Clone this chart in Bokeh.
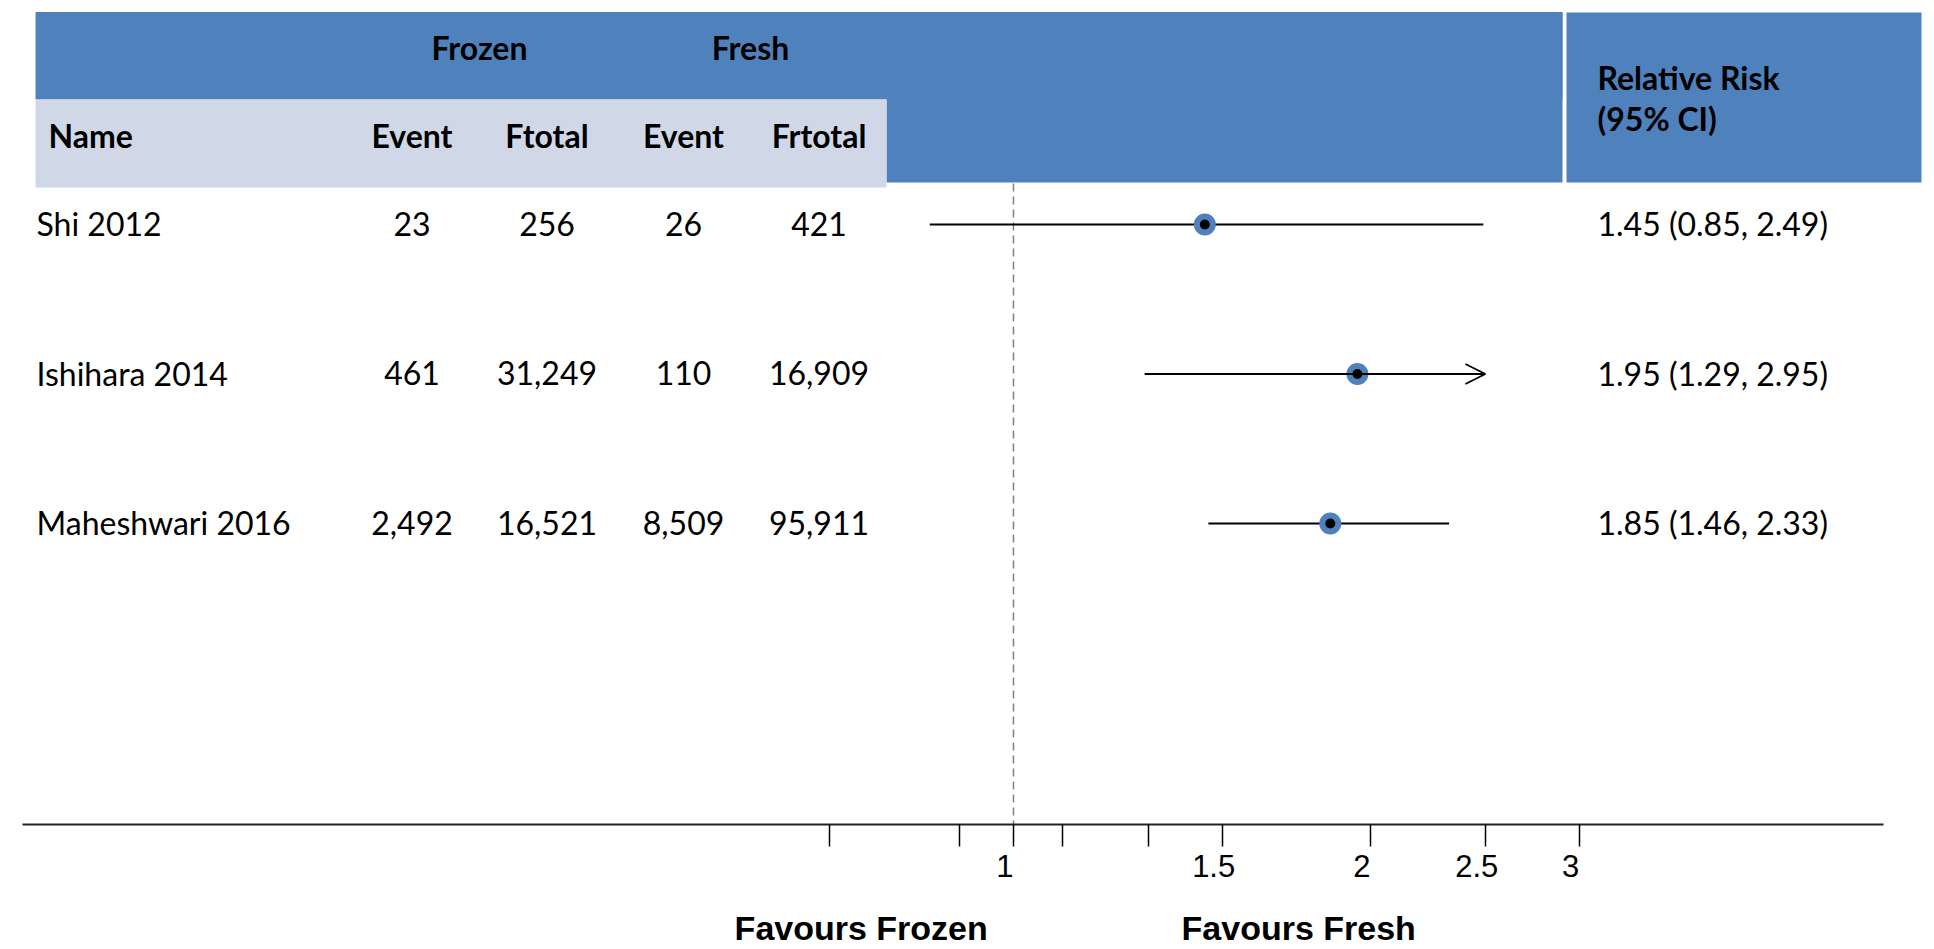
from bokeh.plotting import figure
from bokeh.layouts import column
from bokeh.models import (Range1d, LinearScale, FixedTicker, Arrow, OpenHead)
from bokeh.core.properties import value
from bokeh.embed import file_html
from bokeh.resources import INLINE

# ---------------- data ----------------
names = ["Shi 2012", "Ishihara 2014", "Maheshwari 2016"]
frozen_event = [23, 461, 2492]
frozen_total = [256, 31249, 16521]
fresh_event = [26, 110, 8509]
fresh_total = [421, 16909, 95911]
rr = [1.45, 1.95, 1.85]
ci_low = [0.85, 1.29, 1.46]
ci_high = [2.49, 2.95, 2.33]

col_headers = ["Event", "Ftotal", "Event", "Frtotal"]
group_headers = ["Frozen", "Fresh"]
major_ticks = [1, 1.5, 2, 2.5, 3]
major_tick_labels = ["1", "1.5", "2", "2.5", "3"]
minor_ticks = [0.7, 0.9, 1.1, 1.3]
favour_labels = ["Favours Frozen", "Favours Fresh"]
favour_at = [0.744, 1.74]
ci_clip = 2.5

# ---------------- layout constants (px) ----------------
W, H = 1926, 949
AXIS_Y = 824
H1 = 900            # top figure: table, forest plot and axis
BLUE = "#4F81BD"
LIGHT = "#D0D8E8"
TF = value("Lato")
col_x = [411.5, 546.5, 683, 818.5]
row_y0, row_step = 224, 149.5
row_y = [row_y0 + i * row_step for i in range(len(names))]
NBSP = "\u00a0"

def fmt(n):
    return f"{n:,}"

x_rng = Range1d(0.13988, 5.8876)
p = figure(width=W, height=H1, output_backend="svg", toolbar_location=None,
           x_axis_type="log", x_range=x_rng,
           y_range=Range1d(AXIS_Y, 0), y_axis_location=None,
           min_border_left=0, min_border_right=0, min_border_top=0,
           min_border_bottom=H1 - AXIS_Y)
p.outline_line_color = None
p.grid.visible = False
p.background_fill_color = "white"
p.border_fill_color = "white"
p.extra_x_ranges = {"tbl": Range1d(0, W)}
p.extra_x_scales = {"tbl": LinearScale()}

# ---------------- header boxes ----------------
p.quad(left=[35], right=[1562], top=[11.5], bottom=[99], fill_color=BLUE,
       line_color=None, x_range_name="tbl")
p.quad(left=[886], right=[1562], top=[12], bottom=[182], fill_color=BLUE,
       line_color=None, x_range_name="tbl")
p.quad(left=[1566], right=[1921], top=[12], bottom=[182], fill_color=BLUE,
       line_color=None, x_range_name="tbl")
p.quad(left=[35], right=[886], top=[99], bottom=[187], fill_color=LIGHT,
       line_color=None, x_range_name="tbl")

hdr = dict(x_range_name="tbl", text_font=TF, text_font_style="bold",
           text_color="black", text_baseline="alphabetic", text_font_size="32px")
p.text(x=[479, 750], y=[47, 47], text=group_headers, text_align="center", **hdr)
p.text(x=[48], y=[135], text=["Name"], text_align="left", **hdr)
p.text(x=col_x, y=[135] * 4, text=col_headers, text_align="center", **hdr)
p.text(x=[1597, 1597], y=[77, 118], text=["Relative Risk", "(95% CI)"],
       text_align="left", **hdr)

# ---------------- table rows ----------------
body = dict(x_range_name="tbl", text_font=TF, text_font_size="32px",
            text_color="black", text_baseline="alphabetic")
ty = [y - 1 for y in row_y]
p.text(x=[36] * len(names), y=ty, text=names, text_align="left", **body)
for cx, col in zip(col_x, [frozen_event, frozen_total, fresh_event, fresh_total]):
    p.text(x=[cx] * len(col), y=ty, text=[fmt(v) for v in col],
           text_align="center", **body)
ci_txt = [f"{r:.2f} ({l:.2f}, {h:.2f})" for r, l, h in zip(rr, ci_low, ci_high)]
p.text(x=[1597] * len(ci_txt), y=ty, text=ci_txt, text_align="left", **body)

# ---------------- forest plot ----------------
p.segment(x0=[1], x1=[1], y0=[183], y1=[AXIS_Y], line_color="#808080",
          line_width=1.5, line_dash="8 5")

seg_x0, seg_x1, seg_y = [], [], []
for l, h, y in zip(ci_low, ci_high, row_y):
    if h > ci_clip:
        p.add_layout(Arrow(x_start=l, x_end=ci_clip, y_start=y, y_end=y,
                           line_color="black", line_width=1.8,
                           end=OpenHead(size=20, line_color="black", line_width=1.8)))
    else:
        seg_x0.append(l); seg_x1.append(h); seg_y.append(y)
p.segment(x0=seg_x0, x1=seg_x1, y0=seg_y, y1=seg_y, line_color="black", line_width=1.8)
p.scatter(x=rr, y=row_y, size=16, fill_color="black", line_color=BLUE, line_width=6)

# ---------------- axis ----------------
ax = p.xaxis[0]
ax.ticker = FixedTicker(ticks=major_ticks, minor_ticks=minor_ticks)
ax.major_label_overrides = {t: s + NBSP * 2 for t, s in zip(major_ticks, major_tick_labels)}
ax.bounds = (0.146, 5.416)
ax.axis_line_color = "#222222"
ax.axis_line_width = 2
ax.major_tick_in = 0
ax.major_tick_out = 22
ax.minor_tick_in = 0
ax.minor_tick_out = 22
ax.major_tick_line_color = "black"
ax.minor_tick_line_color = "black"
ax.major_tick_line_width = 1.5
ax.minor_tick_line_width = 1.5
ax.major_label_standoff = 2
ax.major_label_text_font = "Liberation Sans"
ax.major_label_text_font_size = "31px"
ax.major_label_text_color = "black"

# ---------------- "Favours" captions (strip below the axis) ----------------
q = figure(width=W, height=H - H1, output_backend="svg", toolbar_location=None,
           x_axis_type="log", x_range=x_rng, y_range=Range1d(H, H1),
           x_axis_location=None, y_axis_location=None,
           min_border_left=0, min_border_right=0, min_border_top=0,
           min_border_bottom=0)
q.outline_line_color = None
q.grid.visible = False
q.text(x=favour_at, y=[927, 927], text=favour_labels, text_align="center",
       text_baseline="middle", text_font=value("Liberation Sans"),
       text_font_style="bold", text_font_size="34px", text_color="black")

layout = column(p, q, spacing=0)
open("out.html", "w").write(file_html(layout, INLINE))
